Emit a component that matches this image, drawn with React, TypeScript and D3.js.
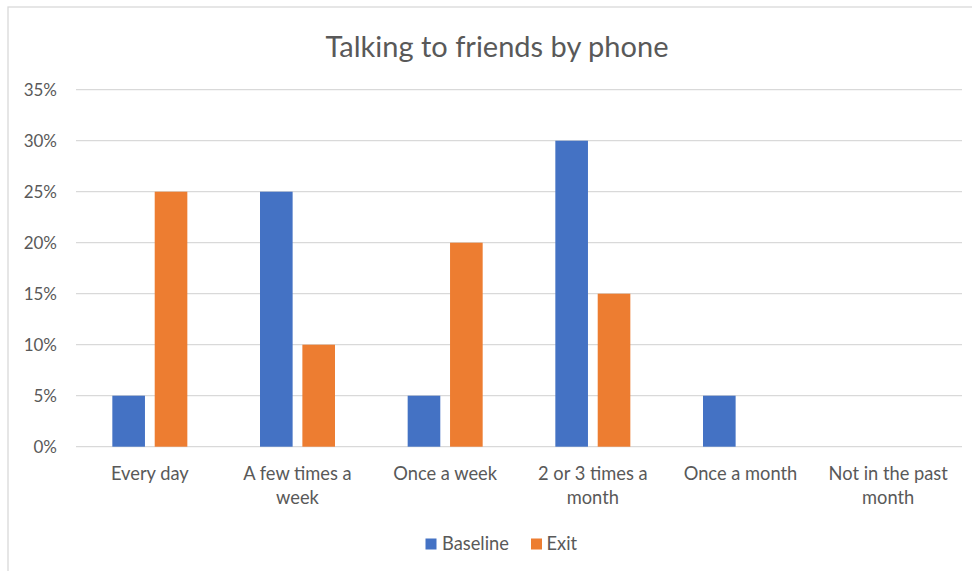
import React from "react";
import * as d3 from "d3";

const title = "Talking to friends by phone";
const categories = [
  "Every day",
  "A few times a\nweek",
  "Once a week",
  "2 or 3 times a\nmonth",
  "Once a month",
  "Not in the past\nmonth",
];
const seriesNames = ["Baseline", "Exit"];
const baseline = [0.05, 0.25, 0.05, 0.3, 0.05, 0];
const exitVals = [0.25, 0.1, 0.2, 0.15, 0, 0];
const colors = ["#4472C4", "#ED7D31"];
const yTicks = [0, 0.05, 0.1, 0.15, 0.2, 0.25, 0.3, 0.35];

const W = 972;
const H = 571;
const FONT = "Lato, 'Open Sans', sans-serif";
const TEXT = "#595959";
const GRID = "#D9D9D9";

export default function App() {
  const plotL = 76;
  const plotR = 962;
  const plotTop = 89.7;
  const plotBottom = 446.7;

  const x0 = d3.scaleBand<string>().domain(categories).range([plotL, plotR]);
  const bw = x0.bandwidth();
  const x1 = d3
    .scaleBand<string>()
    .domain(seriesNames)
    .range([bw / 2 - 37.5, bw / 2 + 37.5])
    .paddingInner(0.23);
  const y = d3.scaleLinear().domain([0, 0.35]).range([plotBottom, plotTop]);
  const fmt = d3.format(".0%");
  const data = [baseline, exitVals];

  return (
    <svg
      width={W}
      height={H}
      style={{ position: "absolute", left: 0, top: 0, background: "#fff" }}
      fontFamily={FONT}
    >
      <rect x={0} y={0} width={W} height={H} fill="#fff" />
      <rect x={8} y={7} width={W + 20} height={H + 20} fill="none" stroke={GRID} strokeWidth={1.3} />
      <text x={W / 2 + 11} y={57} textAnchor="middle" fontSize={29} fill={TEXT}>
        {title}
      </text>
      {yTicks.map((t) => (
        <g key={t}>
          <line x1={plotL} x2={plotR} y1={y(t)} y2={y(t)} stroke={GRID} strokeWidth={1.3} />
          <text x={57} y={y(t)} dy="0.35em" textAnchor="end" fontSize={17} fill={TEXT}>
            {fmt(t)}
          </text>
        </g>
      ))}
      {categories.map((c, i) => (
        <g key={c} transform={`translate(${x0(c)},0)`}>
          {seriesNames.map((s, j) => {
            const v = data[j][i];
            if (v <= 0) return null;
            return (
              <rect
                key={s}
                x={x1(s)}
                y={y(v)}
                width={x1.bandwidth()}
                height={y(0) - y(v)}
                fill={colors[j]}
              />
            );
          })}
          <text x={bw / 2} y={480} textAnchor="middle" fontSize={18.3} fill={TEXT}>
            {c.split("\n").map((line, k) => (
              <tspan key={k} x={bw / 2} dy={k === 0 ? 0 : 23.5}>
                {line}
              </tspan>
            ))}
          </text>
        </g>
      ))}
      <g>
        <rect x={425.5} y={538.5} width={11} height={11} fill={colors[0]} />
        <text x={442} y={550} fontSize={18.3} fill={TEXT}>
          {seriesNames[0]}
        </text>
        <rect x={531} y={538.5} width={11} height={11} fill={colors[1]} />
        <text x={546.5} y={550} fontSize={18.3} fill={TEXT}>
          {seriesNames[1]}
        </text>
      </g>
    </svg>
  );
}
